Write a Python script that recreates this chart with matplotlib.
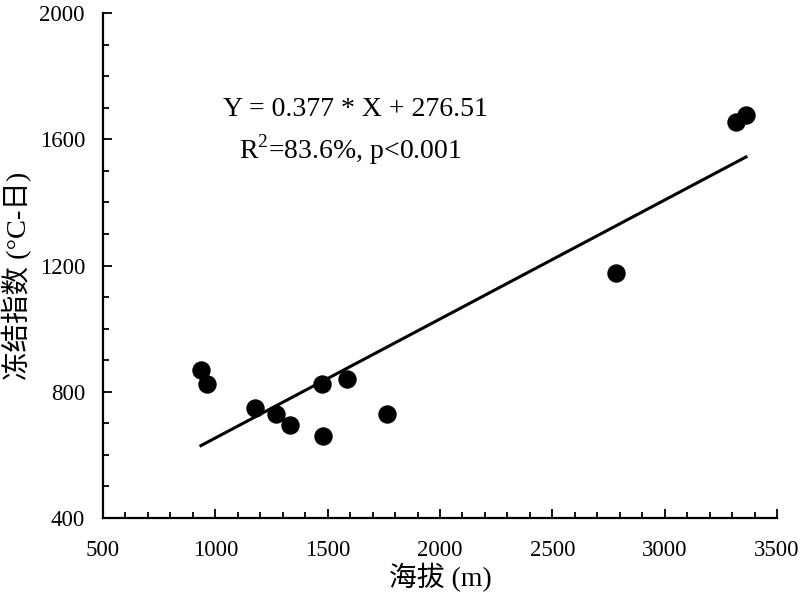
"""
Freezing index vs elevation scatter with linear fit
"""
import matplotlib
matplotlib.use("Agg")
import matplotlib.pyplot as plt
import numpy as np
from matplotlib.ticker import MultipleLocator

# Data
elevation = [936, 963, 1177, 1270, 1332, 1475, 1479, 1586, 1764, 2783, 3317, 3362]
freezing_index = [869, 825, 749, 730, 695, 825, 660, 840, 730, 1176, 1655, 1677]
slope = 0.377
intercept = 276.51
eq_text = "Y = 0.377 * X + 276.51"
r2_text = "R$^{2}$=83.6%, p<0.001"

plt.rcParams["font.family"] = ["Liberation Serif", "Noto Sans CJK SC"]
plt.rcParams["mathtext.fontset"] = "custom"
plt.rcParams["mathtext.rm"] = "Liberation Serif"

fig = plt.figure(figsize=(8, 5.93), dpi=100)
ax = fig.add_axes([0.12875, 0.1265, 0.8425, 0.8515])

ax.scatter(elevation, freezing_index, s=150, color="black", zorder=3)

# Fit line
fit_x = np.array([min(elevation), max(elevation)])
ax.plot(fit_x, slope * fit_x + intercept, color="black", linewidth=2.2)

ax.text(1622, 1693, eq_text, ha="center", va="center", fontsize=20)
ax.text(1599, 1566, r2_text, ha="center", va="center", fontsize=20)

ax.set_xlim(500, 3500)
ax.set_ylim(400, 2000)
ax.xaxis.set_major_locator(MultipleLocator(500))
ax.xaxis.set_minor_locator(MultipleLocator(100))
ax.yaxis.set_major_locator(MultipleLocator(400))
ax.yaxis.set_minor_locator(MultipleLocator(100))
ax.tick_params(which="major", direction="in", length=6.5, width=1.3, labelsize=16.5)
ax.tick_params(which="minor", direction="in", length=4, width=1.3)
ax.tick_params(axis="x", which="major", pad=16)
ax.tick_params(axis="y", which="major", pad=13)

for side in ["top", "right"]:
    ax.spines[side].set_visible(False)
for side in ["left", "bottom"]:
    ax.spines[side].set_linewidth(1.6)

ax.set_xlabel("海拔 (m)", fontsize=20)
ax.set_ylabel("冻结指数 (°C-日)", fontsize=20.5)
ax.xaxis.set_label_coords(0.5, -0.088)
ax.yaxis.set_label_coords(-0.105, 0.48)

fig.savefig("out.png", dpi=100)
